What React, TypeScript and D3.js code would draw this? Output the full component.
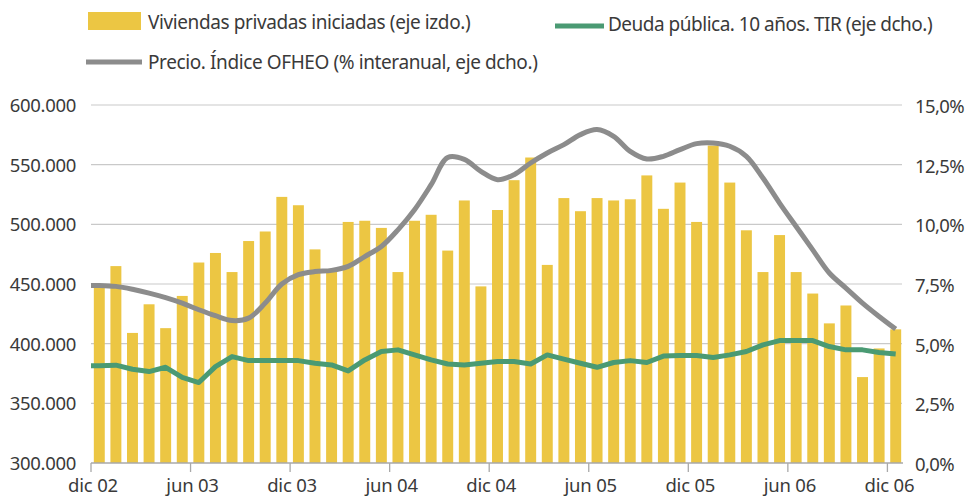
import React from "react";
import * as d3 from "d3";

// ---------- DATA ----------
const monthLabels: string[] = (() => {
  const es = ["ene", "feb", "mar", "abr", "may", "jun", "jul", "ago", "sep", "oct", "nov", "dic"];
  const out: string[] = [];
  for (let i = 0; i < 49; i++) {
    const m = (11 + i) % 12;
    const y = 2 + Math.floor((11 + i) / 12);
    out.push(`${es[m]} ${String(y).padStart(2, "0")}`);
  }
  return out;
})();

const tickLabels = ["dic 02", "jun 03", "dic 03", "jun 04", "dic 04", "jun 05", "dic 05", "jun 06", "dic 06"];

// Viviendas privadas iniciadas (eje izdo.)
const housingStarts = [
  448000, 465000, 409000, 433000, 413000, 440000, 468000, 476000, 460000, 486000,
  494000, 523000, 516000, 479000, 461000, 502000, 503000, 497000, 460000, 503000,
  508000, 478000, 520000, 448000, 512000, 537000, 556000, 466000, 522000, 511000,
  522000, 520000, 521000, 541000, 513000, 535000, 502000, 566000, 535000, 495000,
  460000, 491000, 460000, 442000, 417000, 432000, 372000, 396000, 412000,
];

// Precio. Índice OFHEO (% interanual, eje dcho.)
const ofheo = [
  7.44, 7.40, 7.28, 7.12, 6.93, 6.70, 6.42, 6.17, 5.97, 6.07,
  6.70, 7.50, 7.89, 8.02, 8.07, 8.24, 8.65, 9.07, 9.77, 10.61,
  11.66, 12.80, 12.72, 12.22, 11.87, 12.08, 12.57, 12.99, 13.34, 13.76,
  13.97, 13.69, 13.06, 12.74, 12.85, 13.13, 13.38, 13.41, 13.27, 12.85,
  11.94, 10.89, 9.91, 8.93, 7.96, 7.33, 6.70, 6.14, 5.61,
];

// Deuda pública. 10 años. TIR (eje dcho.)
const bond10y = [
  4.07, 4.10, 3.93, 3.83, 4.01, 3.59, 3.37, 4.04, 4.46, 4.29,
  4.29, 4.29, 4.29, 4.18, 4.11, 3.86, 4.32, 4.67, 4.74, 4.53,
  4.32, 4.15, 4.11, 4.18, 4.25, 4.25, 4.15, 4.53, 4.35, 4.18,
  4.01, 4.21, 4.29, 4.21, 4.48, 4.50, 4.50, 4.42, 4.53, 4.67,
  4.95, 5.13, 5.13, 5.13, 4.88, 4.74, 4.74, 4.63, 4.57,
];

const leftTicks = [300000, 350000, 400000, 450000, 500000, 550000, 600000];
const rightTicks = [0, 2.5, 5, 7.5, 10, 12.5, 15];

const legendLabels = [
  "Viviendas privadas iniciadas (eje izdo.)",
  "Deuda pública. 10 años. TIR (eje dcho.)",
  "Precio. Índice OFHEO (% interanual, eje dcho.)",
];

// ---------- STYLE ----------
const W = 968;
const H = 500;
const YELLOW = "#ECC643";
const GREEN = "#4A9A73";
const GRAY = "#8C8C8C";
const GRID = "#C9C9C9";
const TEXT = "#3a3a3a";
const FONT = "'Noto Sans', 'Open Sans', sans-serif";

const locale = d3.formatLocale({ decimal: ",", thousands: ".", grouping: [3], currency: ["", ""] });
const fmtLeft = locale.format(",.0f");
const fmtRight = locale.format(".1f");

export default function App() {
  const plot = { left: 91, right: 904, top: 105, bottom: 463 };

  const x = d3.scaleBand<string>().domain(monthLabels).range([plot.left, plot.right]).paddingInner(0.34).paddingOuter(0.17);
  const yL = d3.scaleLinear().domain([300000, 600000]).range([plot.bottom, plot.top]);
  const yR = d3.scaleLinear().domain([0, 15]).range([plot.bottom, plot.top]);

  const step = x.step();
  const bandStart = (m: string) => (x(m) as number) - (step - x.bandwidth()) / 2;
  const center = (m: string) => (x(m) as number) + x.bandwidth() / 2;

  const linePts = (vals: number[]) => {
    const pts: [number, number][] = vals.map((v, i) => [center(monthLabels[i]), yR(v)]);
    pts.unshift([bandStart(monthLabels[0]), yR(vals[0])]);
    return pts;
  };

  const grayPath = d3.line().curve(d3.curveCatmullRom.alpha(0.5))(linePts(ofheo)) || "";
  const greenPath = d3.line().curve(d3.curveLinear)(linePts(bond10y)) || "";

  const tickMonths = tickLabels;

  return (
    <svg width={W} height={H} style={{ position: "absolute", left: 0, top: 0, background: "#fff" }} fontFamily={FONT}>
      {/* gridlines */}
      {leftTicks.slice(1).map((t) => (
        <line key={t} x1={plot.left} x2={plot.right - 2} y1={yL(t)} y2={yL(t)} stroke={GRID} strokeWidth={1.2} />
      ))}
      {/* bars */}
      {housingStarts.map((v, i) => (
        <rect key={i} x={x(monthLabels[i])} y={yL(v)} width={x.bandwidth()} height={yL(300000) - yL(v)} fill={YELLOW} />
      ))}
      {/* baseline axis */}
      <line x1={plot.left} x2={plot.right - 1} y1={plot.bottom} y2={plot.bottom} stroke="#a9a9a9" strokeWidth={1.3} />
      {tickMonths.map((m) => (
        <line key={m} x1={bandStart(m)} x2={bandStart(m)} y1={plot.bottom} y2={plot.bottom + 9} stroke="#a9a9a9" strokeWidth={1.3} />
      ))}
      {/* lines */}
      <path d={grayPath} fill="none" stroke={GRAY} strokeWidth={5} strokeLinejoin="round" />
      <path d={greenPath} fill="none" stroke={GREEN} strokeWidth={5} strokeLinejoin="round" />

      {/* left axis labels */}
      {leftTicks.map((t) => (
        <text key={t} x={76} y={yL(t) + 7} textAnchor="end" fontSize={18.5} fill={TEXT} letterSpacing={-0.3}>
          {fmtLeft(t)}
        </text>
      ))}
      {/* right axis labels */}
      {rightTicks.map((t) => (
        <text key={t} x={915} y={yR(t) + 8} textAnchor="start" fontSize={18.5} fill={TEXT} letterSpacing={-0.6}>
          {fmtRight(t) + "%"}
        </text>
      ))}
      {/* bottom labels */}
      {tickMonths.map((m) => (
        <text key={m} x={bandStart(m) + 2} y={492} textAnchor="middle" fontSize={18.5} fill={TEXT} letterSpacing={-0.2}>
          {m}
        </text>
      ))}

      {/* legend */}
      <rect x={88} y={12} width={53} height={18} fill={YELLOW} />
      <text x={148} y={29} fontSize={19} fill={TEXT} letterSpacing={-0.4}>{legendLabels[0]}</text>
      <line x1={555} x2={604} y1={26} y2={26} stroke={GREEN} strokeWidth={5} />
      <text x={608} y={31} fontSize={19} fill={TEXT} letterSpacing={-0.5}>{legendLabels[1]}</text>
      <line x1={86} x2={142} y1={62} y2={62} stroke={GRAY} strokeWidth={5} />
      <text x={148} y={69} fontSize={19} fill={TEXT} letterSpacing={-0.4}>{legendLabels[2]}</text>
    </svg>
  );
}
